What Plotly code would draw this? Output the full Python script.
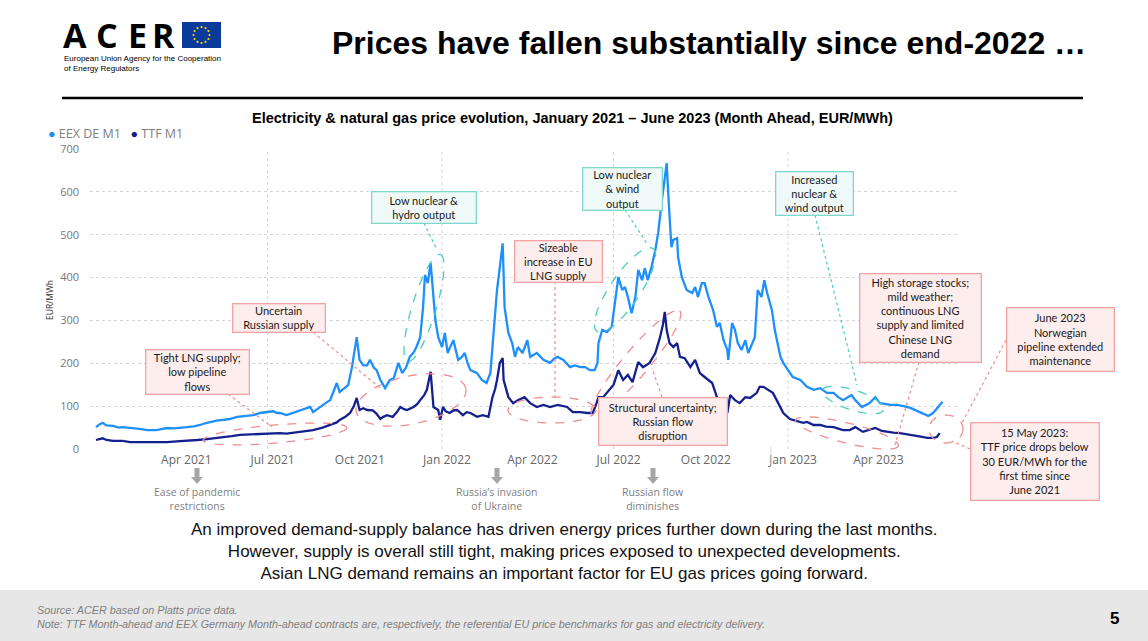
import numpy as np
import plotly.graph_objects as go

# ---------------- data ----------------
eex_dates = [
    "2021-01-01", "2021-01-05", "2021-01-08", "2021-01-12", "2021-01-19", "2021-01-25", "2021-01-29",
    "2021-02-05", "2021-02-09", "2021-02-16", "2021-02-24", "2021-03-02", "2021-03-06", "2021-03-12",
    "2021-03-17", "2021-03-24", "2021-03-31", "2021-04-07", "2021-04-14", "2021-04-21", "2021-04-26",
    "2021-05-01", "2021-05-08", "2021-05-15", "2021-05-22", "2021-05-30", "2021-06-06", "2021-06-16",
    "2021-06-23", "2021-06-30", "2021-07-07", "2021-07-11", "2021-07-14", "2021-07-21", "2021-07-28",
    "2021-08-04", "2021-08-11", "2021-08-15", "2021-08-18", "2021-08-24", "2021-08-28", "2021-09-02",
    "2021-09-05", "2021-09-08", "2021-09-12", "2021-09-15", "2021-09-19", "2021-09-24", "2021-09-28",
    "2021-10-01", "2021-10-03", "2021-10-06", "2021-10-10", "2021-10-14", "2021-10-17", "2021-10-21",
    "2021-10-24", "2021-10-28", "2021-10-31", "2021-11-02", "2021-11-07", "2021-11-11", "2021-11-16",
    "2021-11-20", "2021-11-24", "2021-11-28", "2021-12-02", "2021-12-05", "2021-12-09", "2021-12-12",
    "2021-12-14", "2021-12-17", "2021-12-20", "2021-12-22", "2021-12-25", "2021-12-28",
    "2022-01-01", "2022-01-04", "2022-01-07", "2022-01-10", "2022-01-13", "2022-01-18", "2022-01-22",
    "2022-01-25", "2022-01-28", "2022-01-31", "2022-02-07", "2022-02-12", "2022-02-17", "2022-02-21",
    "2022-02-24", "2022-02-28", "2022-03-03", "2022-03-06", "2022-03-08", "2022-03-12", "2022-03-16",
    "2022-03-19", "2022-03-22", "2022-03-27", "2022-04-01", "2022-04-04", "2022-04-11", "2022-04-18",
    "2022-04-25", "2022-04-29", "2022-05-03", "2022-05-09", "2022-05-16", "2022-05-21", "2022-05-27",
    "2022-06-01", "2022-06-06", "2022-06-11", "2022-06-14", "2022-06-15", "2022-06-19", "2022-06-24",
    "2022-06-29", "2022-07-02", "2022-07-06", "2022-07-10", "2022-07-13", "2022-07-16", "2022-07-20",
    "2022-07-24", "2022-07-27", "2022-07-31", "2022-08-03", "2022-08-06", "2022-08-10", "2022-08-14",
    "2022-08-17", "2022-08-21", "2022-08-24", "2022-08-26", "2022-08-28", "2022-08-31", "2022-09-02",
    "2022-09-06", "2022-09-07", "2022-09-11", "2022-09-16", "2022-09-22", "2022-09-25", "2022-09-28",
    "2022-10-02", "2022-10-05", "2022-10-09", "2022-10-14", "2022-10-18", "2022-10-21", "2022-10-25",
    "2022-10-29", "2022-10-30", "2022-11-03", "2022-11-06", "2022-11-09", "2022-11-13", "2022-11-17",
    "2022-11-20", "2022-11-24", "2022-11-27", "2022-11-30", "2022-12-04", "2022-12-07", "2022-12-10",
    "2022-12-15", "2022-12-18", "2022-12-24", "2022-12-27",
    "2023-01-01", "2023-01-06", "2023-01-14", "2023-01-21", "2023-01-28", "2023-02-04", "2023-02-11",
    "2023-02-18", "2023-02-23", "2023-02-28", "2023-03-09", "2023-03-13", "2023-03-20", "2023-03-28",
    "2023-04-03", "2023-04-08", "2023-04-19", "2023-04-26", "2023-05-03", "2023-05-10", "2023-05-20",
    "2023-05-29", "2023-06-03", "2023-06-08", "2023-06-13",
]
eex_values = [
    51, 58, 61, 55, 54, 50, 51,
    50, 49, 47, 44, 43, 44, 47,
    49, 48, 49, 51, 53, 56, 60,
    63, 66, 68, 70, 75, 77, 79,
    84, 86, 88, 84, 84, 79, 84,
    89, 95, 98, 86, 96, 103, 110,
    114, 131, 154, 133, 140, 149, 191,
    230, 261, 208, 195, 195, 208, 190,
    184, 161, 150, 142, 161, 165, 201,
    177, 190, 215, 225, 238, 261, 330,
    406, 387, 434, 378, 301, 261,
    238, 271, 224, 240, 254, 208, 215,
    224, 200, 184, 177, 161, 154, 177,
    254, 371, 425, 480, 331, 271, 247,
    215, 238, 224, 254, 215, 224, 208,
    201, 210, 215, 208, 191, 195, 191,
    191, 184, 184, 200, 247, 278, 273,
    285, 331, 401, 371, 378, 355, 317,
    355, 418, 394, 422, 394, 425, 464,
    504, 581, 635, 667, 581, 471, 488,
    492, 448, 401, 371, 364, 378, 355,
    387, 387, 355, 324, 285, 294, 254,
    231, 208, 294, 278, 247, 231, 254,
    224, 247, 261, 371, 355, 394, 364,
    324, 278, 215, 201,
    184, 168, 161, 145, 138, 142, 131,
    131, 121, 114, 126, 114, 98, 107,
    121, 107, 103, 103, 100, 96, 86,
    77, 84, 98, 110,
]

ttf_dates = [
    "2021-01-01", "2021-01-05", "2021-01-08", "2021-01-12", "2021-01-19", "2021-01-29", "2021-02-06",
    "2021-02-16", "2021-02-24", "2021-03-06", "2021-03-17", "2021-03-27", "2021-04-07", "2021-04-18",
    "2021-04-28", "2021-05-07", "2021-05-15", "2021-05-24", "2021-06-02", "2021-06-12", "2021-06-20",
    "2021-06-28", "2021-07-04", "2021-07-14", "2021-07-21", "2021-07-28", "2021-08-04", "2021-08-11",
    "2021-08-18", "2021-08-28", "2021-09-05", "2021-09-12", "2021-09-15", "2021-09-21", "2021-09-26",
    "2021-09-30", "2021-10-03", "2021-10-06", "2021-10-10", "2021-10-14", "2021-10-20", "2021-10-24",
    "2021-10-28", "2021-10-31", "2021-11-04", "2021-11-10", "2021-11-14", "2021-11-18", "2021-11-22",
    "2021-11-25", "2021-12-02", "2021-12-06", "2021-12-09", "2021-12-13", "2021-12-16", "2021-12-19",
    "2021-12-20", "2021-12-23", "2021-12-28", "2021-12-30",
    "2022-01-02", "2022-01-05", "2022-01-09", "2022-01-13", "2022-01-17", "2022-01-23", "2022-01-27",
    "2022-01-31", "2022-02-07", "2022-02-13", "2022-02-19", "2022-02-23", "2022-02-26", "2022-02-28",
    "2022-03-03", "2022-03-06", "2022-03-07", "2022-03-12", "2022-03-17", "2022-03-22", "2022-03-26",
    "2022-03-29", "2022-04-04", "2022-04-11", "2022-04-18", "2022-04-25", "2022-05-03", "2022-05-08",
    "2022-05-13", "2022-05-19", "2022-05-27", "2022-06-03", "2022-06-09", "2022-06-13", "2022-06-15",
    "2022-06-20", "2022-06-27", "2022-07-01", "2022-07-06", "2022-07-11", "2022-07-16", "2022-07-21",
    "2022-07-27", "2022-08-01", "2022-08-08", "2022-08-14", "2022-08-19", "2022-08-22", "2022-08-24",
    "2022-08-26", "2022-08-29", "2022-09-02", "2022-09-06", "2022-09-09", "2022-09-14", "2022-09-20",
    "2022-09-25", "2022-09-30", "2022-10-05", "2022-10-09", "2022-10-13", "2022-10-18", "2022-10-23",
    "2022-10-29", "2022-11-01", "2022-11-06", "2022-11-11", "2022-11-17", "2022-11-22", "2022-11-29",
    "2022-12-02", "2022-12-06", "2022-12-11", "2022-12-16", "2022-12-21", "2022-12-27",
    "2023-01-03", "2023-01-10", "2023-01-17", "2023-01-21", "2023-01-28", "2023-02-04", "2023-02-10",
    "2023-02-18", "2023-02-28", "2023-03-07", "2023-03-13", "2023-03-21", "2023-03-27", "2023-04-03",
    "2023-04-10", "2023-04-15", "2023-04-22", "2023-04-29", "2023-05-06", "2023-05-13", "2023-05-21",
    "2023-05-28", "2023-06-03", "2023-06-07", "2023-06-10",
]
ttf_values = [
    21, 23, 25, 21, 19, 19, 16,
    16, 16, 17, 16, 18, 19, 21,
    23, 25, 28, 30, 33, 34, 35,
    36, 37, 37, 36, 38, 40, 42,
    44, 50, 56, 62, 68, 75, 84,
    100, 119, 91, 95, 91, 90, 82,
    70, 75, 79, 75, 85, 98, 93,
    91, 98, 105, 114, 125, 138, 165,
    180, 98, 91, 68,
    98, 88, 84, 90, 91, 79, 86,
    84, 75, 79, 75, 119, 140, 161,
    201, 212, 161, 121, 107, 114, 118,
    121, 107, 98, 103, 98, 103, 100,
    98, 86, 86, 84, 84, 107, 121,
    121, 138, 150, 184, 161, 173, 156,
    203, 191, 201, 224, 261, 290, 320,
    278, 247, 238, 247, 215, 212, 191,
    208, 177, 168, 160, 154, 121, 107,
    84, 126, 114, 107, 121, 119, 131,
    145, 145, 138, 131, 110, 84,
    70, 65, 61, 63, 56, 56, 52,
    51, 44, 44, 51, 40, 44, 49,
    42, 40, 38, 37, 35, 33, 29,
    26, 26, 28, 37,
]

tick_dates = ["2021-04-01", "2021-07-01", "2021-10-01", "2022-01-01", "2022-04-01",
              "2022-07-01", "2022-10-01", "2023-01-01", "2023-04-01"]
tick_labels = ["Apr 2021", "Jul 2021", "Oct 2021", "Jan 2022", "Apr 2022",
               "Jul 2022", "Oct 2022", "Jan 2023", "Apr 2023"]
grid_dates = ["2021-07-01", "2022-01-01", "2022-07-01", "2023-01-01"]

EEX_COLOR = "#1E8FFB"
TTF_COLOR = "#15208F"
PINK_LINE = "#F08C8C"
PINK_BORDER = "#F3A3A3"
PINK_FILL = "#FDEDED"
TEAL_LINE = "#48CDBD"
TEAL_BORDER = "#7FD8CC"
TEAL_FILL = "#EFFAF8"

# ---------------- layout geometry (pixels) ----------------
W, H = 1148, 641
L, R, T, B = 90, 960, 149, 449


def PX(x):
    return (x - L) / (R - L)


def PY(y):
    return (B - y) / (B - T)


fig = go.Figure()
fig.add_trace(go.Scatter(x=eex_dates, y=eex_values, mode="lines", name="EEX DE M1",
                         line=dict(color=EEX_COLOR, width=2.3), hoverinfo="x+y+name"))
fig.add_trace(go.Scatter(x=ttf_dates, y=ttf_values, mode="lines", name="TTF M1",
                         line=dict(color=TTF_COLOR, width=2.3), hoverinfo="x+y+name"))

shapes = []
annotations = []

# vertical dotted grid lines (half-yearly)
for d in grid_dates:
    shapes.append(dict(type="line", xref="x", yref="paper", x0=d, x1=d, y0=0, y1=1,
                       line=dict(color="#D6D6D6", width=1, dash="dot"), layer="below"))

# footer band
shapes.append(dict(type="rect", xref="paper", yref="paper", x0=PX(0), x1=PX(W),
                   y0=PY(H + 2), y1=PY(590), fillcolor="#E7E7E7", line=dict(width=0), layer="below"))
# header rule
shapes.append(dict(type="line", xref="paper", yref="paper", x0=PX(62), x1=PX(1083),
                   y0=PY(98), y1=PY(98), line=dict(color="black", width=2.5)))
# separator tick under axis
shapes.append(dict(type="line", xref="paper", yref="paper", x0=PX(771), x1=PX(771),
                   y0=PY(447), y1=PY(465), line=dict(color="#D9D9D9", width=1)))

# EU flag
shapes.append(dict(type="rect", xref="paper", yref="paper", x0=PX(182), x1=PX(221),
                   y0=PY(48), y1=PY(22), fillcolor="#0A3A9A", line=dict(width=0)))
for k in range(12):
    a = 2 * np.pi * k / 12
    sx, sy = 201.5 + 8 * np.cos(a), 35 + 8 * np.sin(a)
    shapes.append(dict(type="circle", xref="paper", yref="paper",
                       x0=PX(sx - 1.1), x1=PX(sx + 1.1), y0=PY(sy + 1.1), y1=PY(sy - 1.1),
                       fillcolor="#FFD200", line=dict(width=0)))


def ellipse(cx, cy, a, b, ang, color):
    t = np.linspace(0, 2 * np.pi, 72)
    th = np.radians(ang)
    xs = cx + a * np.cos(t) * np.cos(th) - b * np.sin(t) * np.sin(th)
    ys = cy + a * np.cos(t) * np.sin(th) + b * np.sin(t) * np.cos(th)
    path = "M " + " L ".join(f"{PX(x):.5f},{PY(y):.5f}" for x, y in zip(xs, ys)) + " Z"
    shapes.append(dict(type="path", xref="paper", yref="paper", path=path,
                       line=dict(color=color, width=1.3, dash="dash")))


def connector(x0, y0, x1, y1, color):
    shapes.append(dict(type="line", xref="paper", yref="paper", x0=PX(x0), y0=PY(y0),
                       x1=PX(x1), y1=PY(y1), line=dict(color=color, width=1.2, dash="dot")))


def box(l, t, r, b, text, kind):
    border, fill = (PINK_BORDER, PINK_FILL) if kind == "pink" else (TEAL_BORDER, TEAL_FILL)
    annotations.append(dict(xref="paper", yref="paper", x=PX((l + r) / 2), y=PY((t + b) / 2),
                            xanchor="center", yanchor="middle", text=text, showarrow=False,
                            width=r - l - 2, height=b - t - 2, align="center", valign="middle",
                            bgcolor=fill, bordercolor=border, borderwidth=1.3, borderpad=0,
                            font=dict(family="Lato, Open Sans, sans-serif", size=11, color="#1A1A1A")))


# ellipses
ellipse(275, 434, 72, 9, -5, PINK_LINE)
ellipse(411, 400, 56, 24, -12, PINK_LINE)
ellipse(424, 308, 56, 12, -73, TEAL_LINE)
ellipse(552, 410, 44, 13, 0, PINK_LINE)
ellipse(625, 290, 50, 15, -56, TEAL_LINE)
ellipse(636, 363, 68, 13, -50, PINK_LINE)
ellipse(853, 400, 32, 10, 18, TEAL_LINE)
ellipse(847, 433, 53, 10, 14, PINK_LINE)
ellipse(946, 429, 17, 14, 0, PINK_LINE)

# connectors
connector(228, 394, 272, 427, PINK_LINE)
connector(313, 332, 380, 388, PINK_LINE)
connector(424, 223, 437, 250, TEAL_LINE)
connector(555, 281, 555, 397, PINK_LINE)
connector(625, 210, 648, 245, TEAL_LINE)
connector(662, 397, 652, 368, PINK_LINE)
connector(815, 215, 857, 385, TEAL_LINE)
connector(919, 362, 895, 445, PINK_LINE)
connector(1006, 340, 962, 423, PINK_LINE)
connector(970, 449, 952, 441, PINK_LINE)

# callout boxes
box(145, 349, 249, 394, "Tight LNG supply;<br>low pipeline<br>flows", "pink")
box(232, 303, 325, 332, "Uncertain<br>Russian supply", "pink")
box(371, 191, 476, 223, "Low nuclear &amp;<br>hydro output", "teal")
box(514, 240, 602, 282, "Sizeable<br>increase in EU<br>LNG supply", "pink")
box(582, 167, 662, 210, "Low nuclear<br>&amp; wind<br>output", "teal")
box(598, 397, 727, 445, "Structural uncertainty;<br>Russian flow<br>disruption", "pink")
box(775, 171, 853, 215, "Increased<br>nuclear &amp;<br>wind output", "teal")
box(859, 273, 981, 362, "High storage stocks;<br>mild weather;<br>continuous LNG<br>supply and limited<br>Chinese LNG<br>demand", "pink")
box(1006, 307, 1114, 371, "June 2023<br>Norwegian<br>pipeline extended<br>maintenance", "pink")
box(970, 422, 1099, 500, "15 May 2023:<br>TTF price drops below<br>30 EUR/MWh for the<br>first time since<br>June 2021", "pink")

# grey down arrows with event notes
events = [(197, "Ease of pandemic<br>restrictions"),
          (497, "Russia’s invasion<br>of Ukraine"),
          (653, "Russian flow<br>diminishes")]
for ex, etext in events:
    pts = [(ex - 2.5, 468), (ex + 2.5, 468), (ex + 2.5, 477), (ex + 6, 477), (ex, 484),
           (ex - 6, 477), (ex - 2.5, 477)]
    path = "M " + " L ".join(f"{PX(x):.5f},{PY(y):.5f}" for x, y in pts) + " Z"
    shapes.append(dict(type="path", xref="paper", yref="paper", path=path,
                       fillcolor="#A6A6A6", line=dict(width=0)))
    annotations.append(dict(xref="paper", yref="paper", x=PX(ex), y=PY(499), xanchor="center",
                            yanchor="middle", text=etext, showarrow=False, align="center",
                            font=dict(family="Open Sans, sans-serif", size=10.5, color="#808080")))

# header texts
for letter, lx in zip("ACER", [74.5, 106.5, 137.5, 163.5]):
    annotations.append(dict(xref="paper", yref="paper", x=PX(lx), y=PY(35), xanchor="center",
                            yanchor="middle", text=f"<b>{letter}</b>", showarrow=False,
                            font=dict(family="Open Sans, sans-serif", size=34, color="black")))
annotations.append(dict(xref="paper", yref="paper", x=PX(62), y=PY(63.5), xanchor="left",
                        yanchor="middle", showarrow=False, align="left",
                        text="European Union Agency for the Cooperation<br>of Energy Regulators",
                        font=dict(family="Liberation Sans, Arial, sans-serif", size=8, color="black")))
annotations.append(dict(xref="paper", yref="paper", x=PX(709), y=PY(43), xanchor="center",
                        yanchor="middle", showarrow=False,
                        text="<b>Prices have fallen substantially since end-2022 …</b>",
                        font=dict(family="Liberation Sans, Arial, sans-serif", size=32, color="black")))
annotations.append(dict(xref="paper", yref="paper", x=PX(572), y=PY(118), xanchor="center",
                        yanchor="middle", showarrow=False,
                        text="<b>Electricity &amp; natural gas price evolution, January 2021 – June 2023 (Month Ahead, EUR/MWh)</b>",
                        font=dict(family="Liberation Sans, Arial, sans-serif", size=14.5, color="black")))
# legend (as text)
annotations.append(dict(xref="paper", yref="paper", x=PX(46), y=PY(133), xanchor="left",
                        yanchor="middle", showarrow=False,
                        text=(f"<span style='color:{EEX_COLOR}'>●</span> EEX DE M1   "
                              f"<span style='color:{TTF_COLOR}'>●</span> TTF M1"),
                        font=dict(family="Open Sans, sans-serif", size=12.5, color="#7F7F7F")))
# y axis unit
annotations.append(dict(xref="paper", yref="paper", x=PX(49), y=PY(300), xanchor="center",
                        yanchor="middle", showarrow=False, textangle=-90, text="EUR/MWh",
                        font=dict(family="Open Sans, sans-serif", size=8.5, color="#333333")))
# bottom message
annotations.append(dict(xref="paper", yref="paper", x=PX(564), y=PY(551), xanchor="center",
                        yanchor="middle", showarrow=False, align="center",
                        text=("An improved demand-supply balance has driven energy prices further down during the last months.<br>"
                              "However, supply is overall still tight, making prices exposed to unexpected developments.<br>"
                              "Asian LNG demand remains an important factor for EU gas prices going forward."),
                        font=dict(family="Liberation Sans, Arial, sans-serif", size=17, color="#111111")))
# footer
annotations.append(dict(xref="paper", yref="paper", x=PX(35), y=PY(616.5), xanchor="left",
                        yanchor="middle", showarrow=False, align="left",
                        text=("<i>Source: ACER based on Platts price data.</i><br>"
                              "<i>Note: TTF Month-ahead and EEX Germany Month-ahead contracts are, respectively, "
                              "the referential EU price benchmarks for gas and electricity delivery.</i>"),
                        font=dict(family="Liberation Sans, Arial, sans-serif", size=10.8, color="#808080")))
annotations.append(dict(xref="paper", yref="paper", x=PX(1114), y=PY(618), xanchor="center",
                        yanchor="middle", showarrow=False, text="<b>5</b>",
                        font=dict(family="Liberation Sans, Arial, sans-serif", size=17, color="black")))

fig.update_layout(
    width=W, height=H, autosize=False,
    margin=dict(l=L, r=W - R, t=T, b=H - B, pad=0),
    paper_bgcolor="white", plot_bgcolor="white",
    showlegend=False,
    font=dict(family="Open Sans, sans-serif"),
    xaxis=dict(type="date", range=["2020-12-25 16:00", "2023-07-01 10:00"],
               tickmode="array", tickvals=tick_dates, ticktext=tick_labels,
               showgrid=False, zeroline=False, showline=False, ticks="",
               ticklabelshift=5, ticklabelstandoff=2,
               tickfont=dict(family="Open Sans, sans-serif", size=12, color="#666666")),
    yaxis=dict(range=[0, 700], tickmode="array", tickvals=[0, 100, 200, 300, 400, 500, 600, 700],
               showgrid=True, gridcolor="#D6D6D6", griddash="dot", gridwidth=1,
               zeroline=False, showline=False, ticks="", ticklabelstandoff=10,
               tickfont=dict(family="Open Sans, sans-serif", size=11, color="#777777")),
    shapes=shapes,
    annotations=annotations,
)

fig.write_html("out.html")
